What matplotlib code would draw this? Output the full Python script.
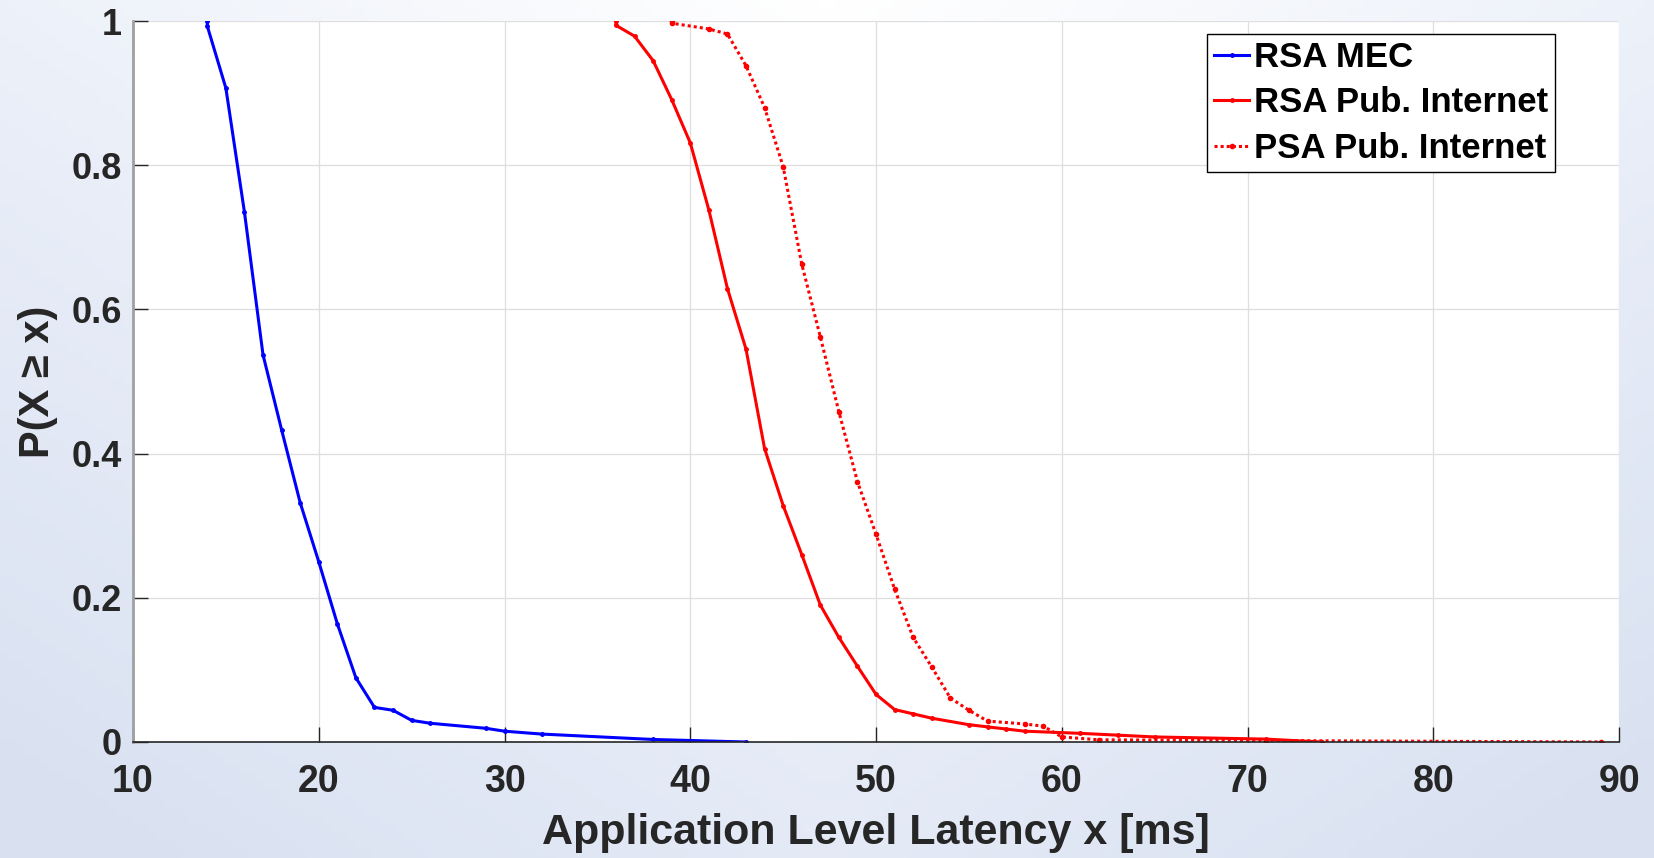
import numpy as np
import matplotlib.pyplot as plt
from matplotlib.colors import LinearSegmentedColormap

# latency values [ms] and P(X >= x)
mec_x = [14, 14, 15, 16, 17, 18, 19, 20, 21, 22, 23, 24, 25, 26, 29, 30, 32, 38, 43]
mec_p = [1.0, 0.993, 0.907, 0.735, 0.537, 0.433, 0.332, 0.250, 0.164, 0.089,
         0.048, 0.044, 0.030, 0.026, 0.019, 0.015, 0.011, 0.0035, 0.0]

rsa_x = [36, 36, 37, 38, 39, 40, 41, 42, 43, 44, 45, 46, 47, 48, 49, 50,
         51, 52, 53, 55, 56, 57, 58, 61, 63, 65, 71, 74]
rsa_p = [1.0, 0.994, 0.979, 0.945, 0.891, 0.831, 0.738, 0.629, 0.545, 0.407,
         0.328, 0.260, 0.190, 0.145, 0.105, 0.066, 0.045, 0.039, 0.033, 0.024,
         0.021, 0.018, 0.015, 0.012, 0.0095, 0.007, 0.004, 0.0]

psa_x = [39, 39, 41, 42, 43, 44, 45, 46, 47, 48, 49, 50, 51, 52, 53, 54, 55,
         56, 58, 59, 60, 62, 71, 89]
psa_p = [1.0, 0.997, 0.989, 0.982, 0.938, 0.880, 0.798, 0.663, 0.562, 0.458,
         0.361, 0.288, 0.212, 0.145, 0.104, 0.061, 0.044, 0.029, 0.025, 0.022,
         0.007, 0.003, 0.002, 0.0]

FONT = 'Liberation Sans'
DARK = '#262626'

fig = plt.figure(figsize=(16.54, 8.58), dpi=100)

# soft bluish backdrop
bg = fig.add_axes([0, 0, 1, 1], zorder=-10)
gx, gy = np.meshgrid(np.linspace(0, 1, 200), np.linspace(0, 1, 100))
shade = np.clip(0.55 * gy + 0.35 * np.abs(gx - 0.5) * 2 + 0.15, 0, 1)
cmap = LinearSegmentedColormap.from_list('bg', ['#ffffff', '#e9eef8', '#d9e1f1'])
bg.imshow(shade, cmap=cmap, aspect='auto', extent=[0, 1, 0, 1], origin='upper')
bg.axis('off')

ax = fig.add_axes([0.0804, 0.1352, 0.8985, 0.8403])
ax.set_facecolor('white')

ax.plot(mec_x, mec_p, color='#0000ff', lw=2.2, marker='.', ms=5, label='RSA MEC')
ax.plot(rsa_x, rsa_p, color='#ff0000', lw=2.2, marker='.', ms=5, label='RSA Pub. Internet')
ax.plot(psa_x, psa_p, color='#ff0000', lw=2.2, ls=(0, (1, 1)), marker='.', ms=6,
        label='PSA Pub. Internet')

ax.set_xlim(10, 90)
ax.set_ylim(0, 1)
ax.set_xticks(range(10, 91, 10))
ax.set_yticks([0, 0.2, 0.4, 0.6, 0.8, 1])
ax.set_yticklabels(['0', '0.2', '0.4', '0.6', '0.8', '1'])
ax.grid(True, color='#dedede', lw=0.9)
ax.set_axisbelow(True)

for s in ['top', 'right']:
    ax.spines[s].set_visible(False)
ax.spines['left'].set_color('#a0a0a0')
ax.spines['left'].set_linewidth(2)
ax.spines['bottom'].set_color(DARK)
ax.spines['bottom'].set_linewidth(1.2)

ax.tick_params(direction='in', length=11, width=1, color=DARK)
ax.tick_params(axis='x', pad=16)
ax.tick_params(axis='y', pad=8)
for lab in ax.get_xticklabels():
    lab.set_fontsize(27)
    lab.set_fontweight('bold')
    lab.set_family(FONT)
    lab.set_color(DARK)
for lab in ax.get_yticklabels():
    lab.set_fontsize(26)
    lab.set_fontweight('bold')
    lab.set_family(FONT)
    lab.set_color(DARK)

ax.set_xlabel('Application Level Latency x [ms]', fontsize=31, fontweight='bold',
              family=FONT, color=DARK, labelpad=9)
ax.set_ylabel('P(X ≥ x)', fontsize=30, fontweight='bold', family=FONT,
              color=DARK, labelpad=10)

leg = ax.legend(loc='upper right', bbox_to_anchor=(0.957, 0.982),
                prop={'family': FONT, 'weight': 'bold', 'size': 25},
                fancybox=False, edgecolor='black', framealpha=1,
                handlelength=1.0, handletextpad=0.15, labelspacing=0.36,
                borderpad=0.2, borderaxespad=0)
leg.get_frame().set_linewidth(1.0)

fig.savefig('out.png', dpi=100)
